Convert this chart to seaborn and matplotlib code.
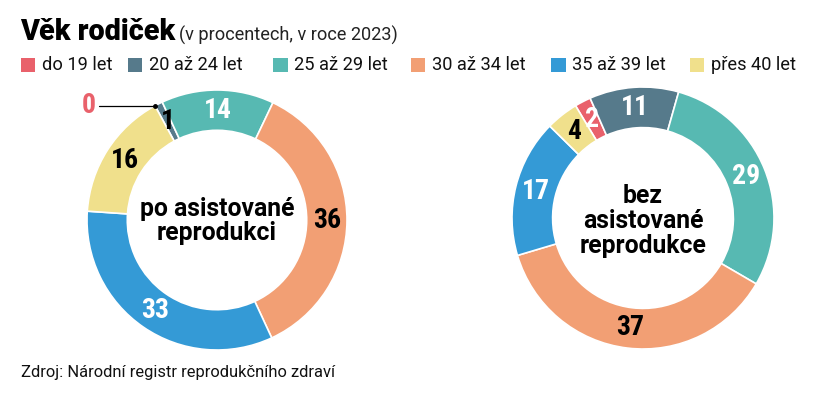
import numpy as np
import matplotlib
matplotlib.use("Agg")
import matplotlib.pyplot as plt
import seaborn as sns
from matplotlib import font_manager

# ---------------- data ----------------
categories = ["do 19 let", "20 až 24 let", "25 až 29 let", "30 až 34 let", "35 až 39 let", "přes 40 let"]
po_asistovane = [0, 1, 14, 36, 33, 16]
bez_asistovane = [2, 11, 29, 37, 17, 4]
title = "Věk rodiček"
subtitle = "(v procentech, v roce 2023)"
source = "Zdroj: Národní registr reprodukčního zdraví"
center_po = "po asistované\nreprodukci"
center_bez = "bez\nasistované\nreprodukce"

# ---------------- style ----------------
palette = sns.color_palette(["#E9616B", "#567A8B", "#57B9B2", "#F29F74", "#349AD6", "#F0E08C"])
po_label_colors = ["#E9616B", "black", "white", "black", "white", "black"]
bez_label_colors = ["white", "white", "white", "black", "white", "black"]

sns.set_theme(style="white")
plt.rcParams['font.family'] = ['Roboto', 'DejaVu Sans']

# pick a condensed bold family for the numbers if one is installed
num_family = None
preferred = ['Roboto Condensed', 'Liberation Sans Narrow', 'Open Sans Condensed',
             'Noto Sans Condensed', 'DejaVu Sans Condensed']
names = {f.name for f in font_manager.fontManager.ttflist}
for p in preferred:
    if p in names:
        num_family = p
        break
num_font = None
if num_family is None:
    for f in font_manager.fontManager.ttflist:
        st = str(f.stretch)
        if st in ('condensed', 'semi-condensed', 'extra-condensed', '300', '400', '500') or \
                'ondensed' in f.fname or 'Narrow' in f.fname:
            if 'ondensed' in f.fname or 'Narrow' in f.fname or st in ('condensed', 'semi-condensed', 'extra-condensed'):
                if ('Bold' in f.fname) or (isinstance(f.weight, int) and f.weight >= 600) or f.weight == 'bold':
                    num_font = dict(fname=f.fname)
                    break
if num_family is not None:
    NUMP = font_manager.FontProperties(family=[num_family], weight='bold')
elif num_font is not None:
    NUMP = font_manager.FontProperties(fname=num_font['fname'])
else:
    NUMP = font_manager.FontProperties(family=['Roboto'], weight='bold')

W, H = 820, 398
fig = plt.figure(figsize=(W / 100, H / 100), dpi=100)
fig.patch.set_facecolor("white")


def fx(x):
    return x / W


def fy(y):
    return 1 - y / H


def fit_width(t, target):
    fig.canvas.draw()
    bb = t.get_window_extent()
    t.set_fontsize(t.get_fontsize() * target / bb.width)


def donut(cx, cy, r, values, label_colors, start, zero_label_x=None):
    ax = fig.add_axes([fx(cx - r), (H - cy - r) / H, 2 * r / W, 2 * r / H])
    ax.pie(values, colors=palette, startangle=start, counterclock=False, radius=1.0,
           wedgeprops=dict(width=0.31, edgecolor="white", linewidth=1.2))
    ax.set_xlim(-1, 1)
    ax.set_ylim(-1, 1)
    ax.set_aspect("equal")
    ax.axis("off")
    total = float(sum(values))
    cum = 0.0
    for v, c in zip(values, label_colors):
        mid = np.deg2rad(start - 360.0 * (cum + v / 2.0) / total)
        cum += v
        if v == 0:
            xd, yd = np.cos(mid), np.sin(mid)
            ax.plot([zero_label_x + 0.08, xd], [yd, yd], color="black", lw=0.9, clip_on=False)
            ax.plot([xd], [yd], "o", color="black", ms=2.5, clip_on=False)
            t = ax.text(zero_label_x, yd, f"{v}", color=c, ha="center", va="center",
                        fontproperties=NUMP, clip_on=False)
            t.set_fontsize(20)
        else:
            t = ax.text(0.845 * np.cos(mid), 0.845 * np.sin(mid), f"{v}", color=c,
                        ha="center", va="center", fontproperties=NUMP)
            t.set_fontsize(20)
    return ax


donut(217, 220, 130, po_asistovane, po_label_colors, 118.5, zero_label_x=-0.99)
donut(643, 218, 131, bez_asistovane, bez_label_colors, 121)

# center texts
t_po = fig.text(fx(217), fy(221), center_po, ha="center", va="center", fontsize=17,
                fontweight="bold", color="black", linespacing=1.05)
fit_width(t_po, 155)
t_bez = fig.text(fx(643), fy(221), center_bez, ha="center", va="center",
                 fontsize=t_po.get_fontsize(), fontweight="bold", color="black", linespacing=1.05)

# title
t_title = fig.text(fx(20), fy(40.5), title, ha="left", va="baseline", fontsize=21,
                   fontweight="black", color="black")
fit_width(t_title, 155)
t_sub = fig.text(fx(179), fy(40.5), subtitle, ha="left", va="baseline", fontsize=13, color="#222222")
fit_width(t_sub, 219)

# legend
sq_x = [20.5, 128, 273, 411, 551, 690]
leg_ts = []
for x0, lab, col in zip(sq_x, categories, palette):
    fig.patches.append(plt.Rectangle((fx(x0), fy(72.3)), 14.5 / W, 14.3 / H,
                                     transform=fig.transFigure, color=col, lw=0))
    t = fig.text(fx(x0 + 21.5), fy(65.5), lab, ha="left", va="center", fontsize=13, color="#111111")
    leg_ts.append(t)
fit_width(leg_ts[0], 70)
for t in leg_ts[1:]:
    t.set_fontsize(leg_ts[0].get_fontsize())

# source
t_src = fig.text(fx(21), fy(373), source, ha="left", va="center", fontsize=12, color="#111111")
fit_width(t_src, 312)

fig.savefig("out.png", dpi=100, facecolor="white")
